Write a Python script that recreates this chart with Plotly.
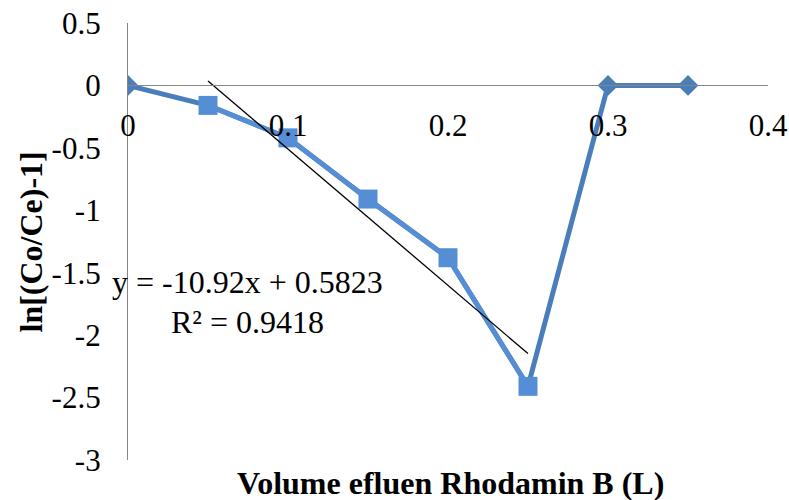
import numpy as np
import plotly.graph_objects as go

# Elution data: volume of Rhodamin B effluent (L) vs ln[(Co/Ce)-1]
volume_all = [0, 0.05, 0.10, 0.15, 0.20, 0.25, 0.30, 0.35]
ln_all = [0, -0.16, -0.42, -0.91, -1.38, -2.41, 0, 0]

volume_fit = [0.05, 0.10, 0.15, 0.20, 0.25]
ln_fit = [-0.16, -0.42, -0.91, -1.38, -2.41]

# Linear trendline as reported
slope = -10.92
intercept = 0.5823
r_squared = 0.9418

x_ticks = [0, 0.1, 0.2, 0.3, 0.4]
y_ticks = [0.5, 0, -0.5, -1, -1.5, -2, -2.5, -3]

serif = "Liberation Serif"
dark_blue = "#4a7ebb"
light_blue = "#558ed5"

fig = go.Figure()

# Full series line
fig.add_trace(go.Scatter(
    x=volume_all, y=ln_all, mode="lines",
    line=dict(color=dark_blue, width=5),
    showlegend=False,
))

# Diamond markers on the points outside the fitted range
fit_set = set(volume_fit)
dx = [v for v in volume_all if v not in fit_set]
dy = [y for v, y in zip(volume_all, ln_all) if v not in fit_set]
fig.add_trace(go.Scatter(
    x=dx, y=dy, mode="markers",
    marker=dict(symbol="diamond", size=16, color=dark_blue, opacity=1,
                line=dict(width=0)),
    showlegend=False,
))

# Fitted series with square markers
fig.add_trace(go.Scatter(
    x=volume_fit, y=ln_fit, mode="lines+markers",
    line=dict(color=light_blue, width=5),
    marker=dict(symbol="square", size=19, color=light_blue, opacity=1,
                line=dict(width=0)),
    showlegend=False,
))

trend_x = np.array([volume_fit[0], volume_fit[-1]])
trend_y = slope * trend_x + intercept
fig.add_trace(go.Scatter(
    x=trend_x, y=trend_y, mode="lines",
    line=dict(color="black", width=1.3),
    showlegend=False,
))

fig.add_annotation(
    x=0.0744, y=-1.578, xref="x", yref="y",
    text=f"y = {slope}x + {intercept}", showarrow=False,
    font=dict(family=serif, size=32, color="black"),
)
fig.add_annotation(
    x=0.0744, y=-1.898, xref="x", yref="y",
    text=f"R² = {r_squared}", showarrow=False,
    font=dict(family=serif, size=32, color="black"),
)

fig.add_annotation(
    x=0.5, y=0, xref="paper", yref="paper", xanchor="center", yanchor="middle",
    xshift=2, yshift=-23,
    text="<b>Volume efluen Rhodamin B (L)</b>", showarrow=False,
    font=dict(family=serif, size=32, color="black"),
)
fig.add_annotation(
    x=0, y=0.5, xref="paper", yref="paper", xanchor="center", yanchor="middle",
    xshift=-98, yshift=-1,
    text="<b>ln[(Co/Ce)-1]</b>", showarrow=False, textangle=-90,
    font=dict(family=serif, size=32, color="black"),
)

fig.update_layout(
    width=789, height=500,
    margin=dict(l=128, r=21, t=23, b=40, autoexpand=False),
    paper_bgcolor="white", plot_bgcolor="rgba(0,0,0,0)",
    xaxis=dict(
        range=[0, 0.4], tickvals=x_ticks, ticktext=[f"{v:g}" for v in x_ticks],
        showgrid=False, zeroline=False, showline=True, linecolor="#868686", linewidth=1.3,
        anchor="free", position=(0 - (-3)) / (0.5 - (-3)), automargin=False,
        ticks="outside", ticklen=12, tickcolor="rgba(0,0,0,0)",
        tickfont=dict(family=serif, size=31, color="black"),
    ),
    yaxis=dict(
        range=[-3, 0.5], tickvals=y_ticks, ticktext=[f"{v:g}" for v in y_ticks],
        showgrid=False, zeroline=False, showline=True, linecolor="#868686", linewidth=1.3,
        automargin=False,
        ticks="outside", ticklen=20, tickcolor="rgba(0,0,0,0)",
        tickfont=dict(family=serif, size=31, color="black"),
    ),
)

fig.write_html("out.html")
